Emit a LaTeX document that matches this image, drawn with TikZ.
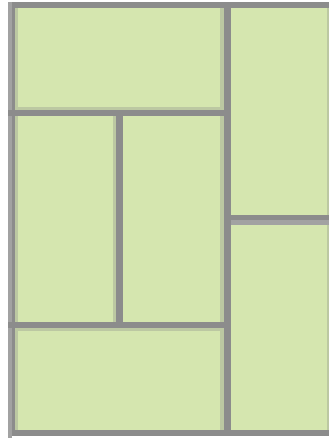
\documentclass[tikz,border=0pt]{standalone}
\definecolor{cellgreen}{HTML}{D5E6AF}
\definecolor{darkline}{HTML}{8C8C8C}
\definecolor{lightline}{HTML}{A2A2A2}
\definecolor{shadeline}{HTML}{BCC8A2}
\begin{document}
\begin{tikzpicture}[x=1pt,y=-1pt,
  dk/.style={fill=darkline},
  lt/.style={fill=lightline},
  sh/.style={fill=shadeline}]
\useasboundingbox (0,0) rectangle (329,438);
\fill[white] (0,0) rectangle (329,438);
% cells
\fill[cellgreen] (12,5) rectangle (329,433);
% shadows
\path[sh] (15,8) rectangle (18,430);
\path[sh] (220,8) rectangle (224,430);
\path[sh] (12,107) rectangle (224,110);
\path[sh] (231,220) rectangle (329,225);
\path[sh] (113,116) rectangle (116,322);
\path[sh] (12,328) rectangle (224,331);
\path[sh] (327,8) rectangle (329,430);
% outer lines
\path[lt] (8,2) rectangle (12,438);
\path[dk] (12,2) rectangle (329,8);
\path[dk] (12,2) rectangle (15,436);
\path[dk] (12,430) rectangle (329,436);
% inner lines
\path[dk] (224,2) rectangle (231,436);
\path[dk] (8,110) rectangle (224,116);
\path[dk] (116,110) rectangle (123,328);
\path[dk] (8,322) rectangle (224,328);
\path[dk] (231,215) rectangle (329,220);
\path[lt] (231,220) rectangle (329,225);
\end{tikzpicture}
\end{document}
